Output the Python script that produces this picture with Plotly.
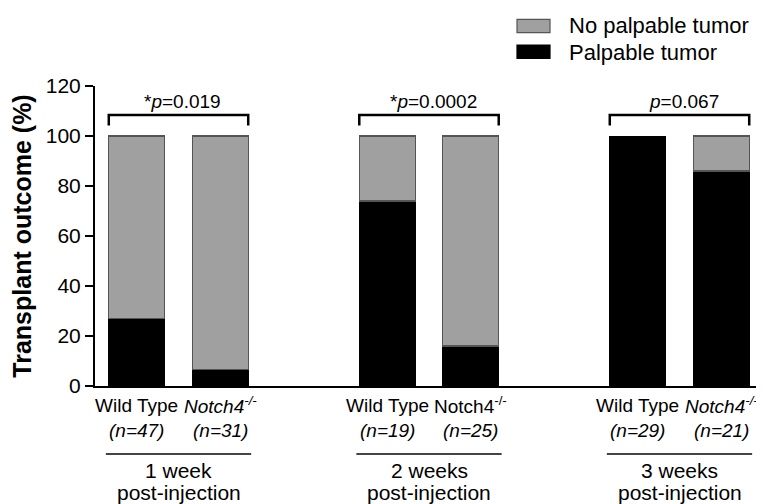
import plotly.graph_objects as go

# ---------------- data ----------------
groups = ["1 week", "2 weeks", "3 weeks"]
group_sub = "post-injection"
genotypes = ["Wild Type", "Notch4"]
knockout_italic = [True, False, True]
n_values = [47, 31, 19, 25, 29, 21]
palpable = [27, 6.5, 74, 16, 100, 86]
no_palpable = [73, 93.5, 26, 84, 0, 14]
series_names = ["No palpable tumor", "Palpable tumor"]
p_labels = ["*<i>p</i>=0.019", "*<i>p</i>=0.0002", "<i>p</i>=0.067"]
y_ticks = [0, 20, 40, 60, 80, 100, 120]

# ---------------- layout constants ----------------
OFF = 8                      # page body margin
W, H = 764 - OFF, 504 - OFF
L = 95 - OFF
T = 86 - OFF
B = H - (386 - OFF)
R = W - (763 - OFF)
PW, PH = W - L - R, H - T - B
FONT = "Liberation Sans, Arial, sans-serif"
GREY = "#a0a0a0"
BAR_W = 0.67

def px_x(px):
    return (px - OFF - L) / PW

def px_y(py):
    return (H - B - (py - OFF)) / PH

# bar positions: two bars per group, one empty slot between groups
xpos = [3 * g + j for g in range(len(groups)) for j in range(2)]

fig = go.Figure()
fig.add_trace(go.Bar(
    x=xpos, y=palpable, name=series_names[1], width=BAR_W,
    marker=dict(color="black", line=dict(color="black", width=1)),
    showlegend=False,
))
fig.add_trace(go.Bar(
    x=xpos, y=no_palpable, name=series_names[0], width=BAR_W,
    marker=dict(color=GREY,
                line=dict(color="#555555",
                          width=[1.2 if v > 0 else 0 for v in no_palpable])),
    showlegend=False,
))

shapes = []
annotations = []

for g in range(len(groups)):
    xa, xb = xpos[2 * g], xpos[2 * g + 1]
    x0, x1 = xa - BAR_W / 2, xb + BAR_W / 2
    # significance bracket
    shapes.append(dict(
        type="path", xref="x", yref="y",
        path=f"M {x0},104.2 L {x0},108.4 L {x1},108.4 L {x1},104.2",
        line=dict(color="black", width=2.5),
    ))
    annotations.append(dict(
        x=(x0 + x1) / 2, y=114, xref="x", yref="y", text=p_labels[g],
        showarrow=False, xshift=4, yanchor="middle",
        font=dict(family=FONT, size=19, color="black"),
    ))
    # genotype labels
    ko = "Notch4<sup>-/-</sup>"
    if knockout_italic[g]:
        ko = "<i>" + ko + "</i>"
    for j, txt in enumerate([genotypes[0], ko]):
        xi = xpos[2 * g + j]
        annotations.append(dict(
            x=xi, y=0, xref="x", yref="y", text=txt, showarrow=False,
            yanchor="middle", yshift=-(405 - 386),
            font=dict(family=FONT, size=19, color="black"),
        ))
        annotations.append(dict(
            x=xi, y=0, xref="x", yref="y",
            text=f"<i>(n={n_values[2 * g + j]})</i>", showarrow=False,
            yanchor="middle", yshift=-(430 - 386),
            font=dict(family=FONT, size=19, color="black"),
        ))
    mid = (xa + xb) / 2
    shapes.append(dict(
        type="line", xref="x", yref="paper",
        x0=mid - 0.87, x1=mid + 0.87, y0=px_y(454), y1=px_y(454),
        line=dict(color="#444444", width=2),
    ))
    annotations.append(dict(
        x=mid, y=0, xref="x", yref="y", text=groups[g], showarrow=False,
        yanchor="middle", yshift=-(470 - 386),
        font=dict(family=FONT, size=21, color="black"),
    ))
    annotations.append(dict(
        x=mid, y=0, xref="x", yref="y", text=group_sub, showarrow=False,
        yanchor="middle", yshift=-(492 - 386),
        font=dict(family=FONT, size=21, color="black"),
    ))

# manual legend (wide rectangles as in the reference)
legend_items = [(series_names[0], GREY, "#555555", 19.3, 32.7, 25.5),
                (series_names[1], "black", "black", 45, 58.3, 52)]
for name, fill, edge, ya, yb, yc in legend_items:
    shapes.append(dict(
        type="rect", xref="paper", yref="paper",
        x0=px_x(517), x1=px_x(550), y0=px_y(yb), y1=px_y(ya),
        fillcolor=fill, line=dict(color=edge, width=1.2),
    ))
    annotations.append(dict(
        x=px_x(567), y=px_y(yc), xref="paper", yref="paper", text=name,
        showarrow=False, xanchor="left", yanchor="middle",
        font=dict(family=FONT, size=22, color="black"),
    ))

fig.update_layout(
    width=W, height=H,
    margin=dict(l=L, r=R, t=T, b=B),
    barmode="stack",
    plot_bgcolor="white", paper_bgcolor="white",
    shapes=shapes, annotations=annotations,
    font=dict(family=FONT, color="black"),
)
fig.update_xaxes(
    range=[-0.5, 7.5], showline=True, linecolor="black", linewidth=2,
    showticklabels=False, ticks="", showgrid=False, zeroline=False,
)
fig.update_yaxes(
    range=[0, 120], tickvals=y_ticks, showline=True, linecolor="black",
    linewidth=2, ticks="outside", ticklen=8, tickwidth=2, tickcolor="black",
    showgrid=False, zeroline=False,
    tickfont=dict(family=FONT, size=21, color="black"),
    title=dict(text="<b>Transplant outcome (%)</b>", standoff=9,
               font=dict(family=FONT, size=25, color="black")),
)

fig.write_html("out.html")
